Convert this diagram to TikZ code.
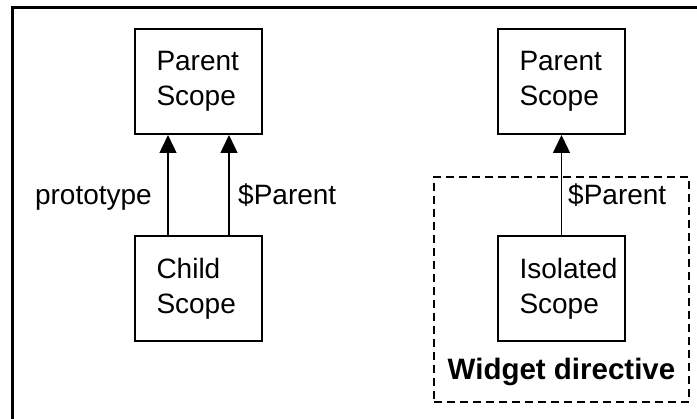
\documentclass[tikz,border=0pt]{standalone}
\usepackage{fontspec}
\setmainfont{Liberation Sans}
\usetikzlibrary{arrows.meta}
\begin{document}
\begin{tikzpicture}[x=1pt,y=-1pt,
  scopebox/.style={draw,line width=2pt,minimum width=127pt,minimum height=105pt,
    text width=84pt,align=left,inner xsep=21.5pt,inner ysep=0pt,
    font=\fontsize{28}{35}\selectfont},
  arr/.style={line width=1.4pt,-{Triangle[width=17pt,length=18pt]}},
  lbl/.style={font=\fontsize{28}{35}\selectfont,inner sep=0pt},
  widget/.style={draw,line width=1.6pt,dash pattern=on 8pt off 5pt}]
\useasboundingbox (0,0) rectangle (697,419);
\draw[line width=3pt] (12,419) -- (12,8) -- (697,8);
% left
\node[scopebox] (lp) at (198.5,81.5) {Parent\\Scope};
\node[scopebox] (lc) at (198.5,289) {Child\\Scope};
\draw[arr] ([xshift=-30.5pt]lc.north) -- ([xshift=-30.5pt]lp.south);
\draw[arr] ([xshift=30.5pt]lc.north) -- ([xshift=30.5pt]lp.south);
\node[lbl,anchor=base east] (proto) at (152,205) {prototype};
\node[lbl,anchor=base west] (lpar) at (238,205) {\$Parent};
% right
\node[widget,minimum width=255pt,minimum height=225pt,inner sep=0pt] (wd) at (561.5,289.5) {};
\node[scopebox] (rp) at (561.5,81.5) {Parent\\Scope};
\node[scopebox] (ri) at (561.5,289) {Isolated\\Scope};
\draw[arr] (ri.north) -- (rp.south);
\node[lbl,anchor=base west] (rpar) at (568,205) {\$Parent};
\node[lbl,anchor=base,font=\fontsize{29.5}{35}\selectfont\bfseries] (wlabel) at (561.5,380) {Widget directive};
\end{tikzpicture}
\end{document}
